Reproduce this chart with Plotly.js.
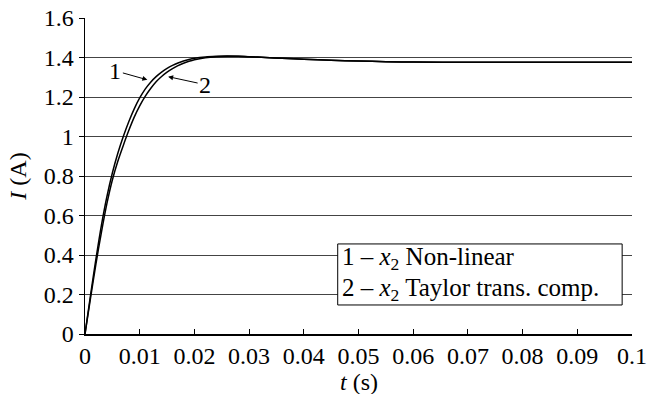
<!DOCTYPE html>
<html>
<head>
<meta charset="utf-8">
<script src="https://cdn.plot.ly/plotly-3.0.1.min.js"></script>
<style>html,body{margin:0;padding:0;background:#fff;}#chart{width:651px;height:394px;}</style>
</head>
<body>
<div id="chart"></div>
<script>
var t = [0, 0.001, 0.002, 0.003, 0.004, 0.005, 0.006, 0.007, 0.008, 0.009, 0.010, 0.011, 0.012, 0.013, 0.014, 0.015, 0.016, 0.017, 0.018, 0.019, 0.020, 0.022, 0.024, 0.026, 0.028, 0.030, 0.033, 0.036, 0.040, 0.045, 0.050, 0.055, 0.060, 0.070, 0.080, 0.090, 0.100];
var nonLinear = [0, 0.195, 0.38, 0.55, 0.695, 0.815, 0.915, 1.00, 1.075, 1.14, 1.195, 1.24, 1.275, 1.303, 1.326, 1.345, 1.360, 1.372, 1.382, 1.390, 1.396, 1.403, 1.406, 1.407, 1.406, 1.404, 1.400, 1.396, 1.391, 1.386, 1.382, 1.379, 1.377, 1.376, 1.376, 1.376, 1.376];
var taylor = [0, 0.18, 0.355, 0.515, 0.66, 0.78, 0.875, 0.955, 1.03, 1.098, 1.155, 1.203, 1.243, 1.277, 1.304, 1.326, 1.344, 1.359, 1.371, 1.381, 1.389, 1.399, 1.404, 1.406, 1.406, 1.404, 1.400, 1.396, 1.391, 1.386, 1.382, 1.379, 1.377, 1.376, 1.376, 1.376, 1.376];
var xTicks = [0, 0.01, 0.02, 0.03, 0.04, 0.05, 0.06, 0.07, 0.08, 0.09, 0.1];
var xTickText = ['0', '0.01', '0.02', '0.03', '0.04', '0.05', '0.06', '0.07', '0.08', '0.09', '0.1'];
var yTicks = [0, 0.2, 0.4, 0.6, 0.8, 1, 1.2, 1.4, 1.6];
var yTickText = ['0', '0.2', '0.4', '0.6', '0.8', '1', '1.2', '1.4', '1.6'];
var legendLines = ['1 \u2013 <i>x</i><sub>2</sub> Non-linear', '2 \u2013 <i>x</i><sub>2</sub> Taylor trans. comp.'];

var F = "'Liberation Serif', 'Times New Roman', serif";
var FS = 24;
var traces = [
  {x: t, y: nonLinear, mode: 'lines', line: {color: '#000', width: 1.5, shape: 'spline', smoothing: 0.8}, name: '1', hoverinfo: 'skip'},
  {x: t, y: taylor, mode: 'lines', line: {color: '#000', width: 1.5, shape: 'spline', smoothing: 0.8}, name: '2', hoverinfo: 'skip'}
];
var layout = {
  width: 651, height: 394,
  margin: {l: 85, r: 19, t: 18, b: 60},
  paper_bgcolor: '#fff', plot_bgcolor: '#fff',
  showlegend: false,
  font: {family: F, size: FS, color: '#000'},
  xaxis: {
    range: [0, 0.1], tickvals: xTicks, ticktext: xTickText,
    ticks: 'inside', ticklen: 5, tickcolor: '#000', tickwidth: 1,
    showline: true, linecolor: '#000', linewidth: 1.5,
    showgrid: false, zeroline: false,
    tickfont: {family: F, size: FS, color: '#000'}
  },
  yaxis: {
    range: [0, 1.6], tickvals: yTicks, ticktext: yTickText,
    ticks: 'outside', ticklen: 5, tickcolor: '#000', tickwidth: 1,
    showline: true, linecolor: '#000', linewidth: 1.5,
    showgrid: true, gridcolor: '#444', gridwidth: 1, zeroline: false,
    tickfont: {family: F, size: FS, color: '#000'},
    title: {text: '<i>I</i> (A)', font: {family: F, size: FS, color: '#000'}, standoff: 10}
  },
  shapes: [
    {type: 'rect', xref: 'x', yref: 'y', x0: 0.0462, x1: 0.0982, y0: 0.147, y1: 0.456,
     fillcolor: '#fff', line: {color: '#000', width: 1}, layer: 'above'}
  ],
  annotations: [
    {x: 0.5, y: -0.152, xref: 'paper', yref: 'paper', xanchor: 'center', yanchor: 'middle', showarrow: false,
     text: '<i>t</i> (s)', font: {family: F, size: FS, color: '#000'}},
    {x: 0.0114, y: 1.287, xref: 'x', yref: 'y', text: '1', showarrow: true, arrowhead: 2, arrowsize: 1, arrowwidth: 1, arrowcolor: '#000', ax: -32, ay: -9, font: {family: F, size: FS, color: '#000'}},
    {x: 0.0152, y: 1.303, xref: 'x', yref: 'y', text: '2', showarrow: true, arrowhead: 2, arrowsize: 1, arrowwidth: 1, arrowcolor: '#000', ax: 37, ay: 8, font: {family: F, size: FS, color: '#000'}},
    {x: 0.0467, y: 0.382, xref: 'x', yref: 'y', xanchor: 'left', yanchor: 'middle', align: 'left', showarrow: false,
     text: legendLines[0], font: {family: F, size: 25, color: '#000'}},
    {x: 0.0467, y: 0.225, xref: 'x', yref: 'y', xanchor: 'left', yanchor: 'middle', align: 'left', showarrow: false,
     text: legendLines[1], font: {family: F, size: 25, color: '#000'}}
  ]
};
Plotly.newPlot('chart', traces, layout, {staticPlot: true, displayModeBar: false});
</script>
</body>
</html>
